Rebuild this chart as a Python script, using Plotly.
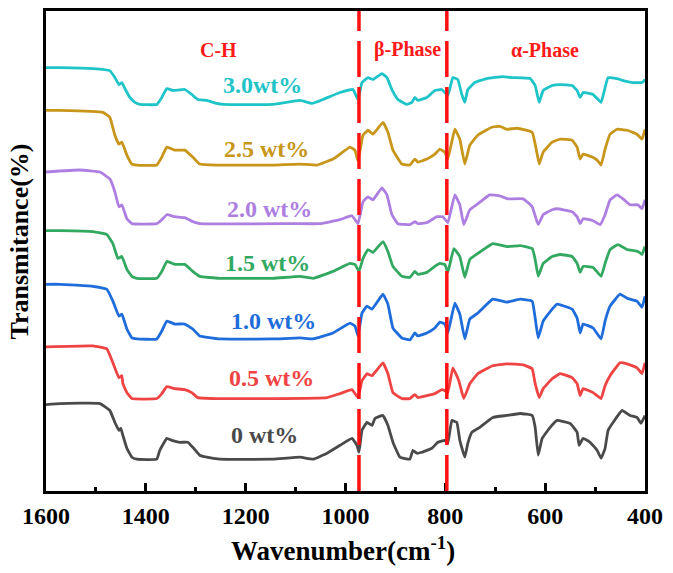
import plotly.graph_objects as go

# ---------------- data (wavenumber cm-1, transmittance a.u. with stacking offset) ----------------
wn_0 = [1600,1572,1492,1472,1462,1454,1450,1446,1438,1428,1418,1378,1372,1358,1348,1332,1316,1306,1292,1278,1252,1145,1091,1065,1037,1011,987,977,973,967,957,947,941,925,915,905,891,871,865,857,847,827,815,801,795,787,777,771,761,755,747,731,705,677,650,626,620,614,606,590,576,550,536,532,524,510,496,488,480,474,464,446,430,416,408,400]
t_0 = [87,88,88,81,69,61,63,56,43,34,32,32,41,53,51,49,49,44,36,34,32,32,34,32,38,46,53,46,39,61,69,66,73,76,66,49,34,32,41,38,39,43,49,51,48,71,69,51,34,48,59,64,74,76,78,76,64,36,53,64,71,68,59,46,53,49,41,33,43,61,69,81,76,74,68,76]

wn_05 = [1600,1506,1478,1466,1454,1448,1446,1438,1428,1378,1368,1358,1342,1322,1308,1296,1258,1145,1037,1011,987,975,967,957,947,925,915,905,887,871,861,855,837,821,807,801,795,785,773,763,751,735,705,677,644,626,620,612,604,586,570,546,536,530,524,504,488,480,470,450,436,416,406,400]
t_05 = [145,146,143,129,114,116,108,99,93,93,98,105,103,102,99,94,93,93,94,98,102,94,111,118,116,129,118,99,93,93,97,94,96,98,102,101,99,124,111,93,108,118,126,128,127,123,108,94,103,113,118,114,108,96,103,99,93,106,116,129,128,124,118,129]

wn_10 = [1600,1572,1506,1478,1466,1454,1448,1438,1428,1418,1378,1368,1358,1342,1322,1306,1292,1252,1145,1091,1065,1025,991,981,975,967,957,947,925,915,905,887,871,861,855,837,821,811,801,795,781,771,761,751,735,705,677,650,626,620,614,604,586,576,546,536,530,524,504,488,480,470,450,436,416,406,400]
t_10 = [208,208,206,203,191,176,178,163,154,153,153,161,171,168,168,163,156,153,153,154,153,159,169,166,156,179,186,183,198,188,164,154,152,159,156,159,164,170,168,159,189,178,153,173,179,193,190,193,191,174,154,171,183,188,183,174,159,168,164,153,171,186,198,194,191,185,196]

wn_15 = [1600,1572,1506,1478,1466,1456,1448,1438,1428,1418,1378,1368,1358,1342,1322,1306,1292,1252,1145,1091,1065,1025,991,981,973,965,955,945,925,915,905,887,871,861,855,837,821,811,801,795,783,771,761,751,735,705,677,650,626,620,614,604,586,570,546,536,530,524,504,488,480,470,454,436,414,406,400]
t_15 = [262,262,261,258,249,234,236,223,216,214,214,221,231,228,228,221,216,214,214,216,214,221,229,228,221,234,243,240,251,241,226,216,215,221,218,220,226,229,228,220,244,236,215,233,239,249,246,247,244,233,216,229,236,238,236,229,220,226,225,216,229,243,248,243,241,238,246]

wn_20 = [1600,1532,1492,1472,1462,1454,1448,1438,1428,1378,1368,1358,1342,1322,1306,1292,1105,1051,1011,987,975,965,955,945,927,917,907,895,871,861,855,837,817,805,795,781,771,763,751,735,711,691,675,644,626,614,604,586,576,546,536,530,524,504,490,480,470,456,444,430,414,406,400]
t_20 = [321,323,321,314,301,286,288,274,269,269,273,278,276,275,271,269,269,269,273,277,269,291,296,293,305,298,278,269,268,271,269,270,276,276,270,298,288,268,283,289,298,297,294,294,286,268,278,283,284,281,276,269,274,272,268,278,293,298,294,288,288,284,293]

wn_25 = [1600,1572,1486,1472,1462,1454,1448,1438,1428,1418,1378,1368,1358,1342,1322,1306,1292,1258,1145,1091,1057,1025,991,981,975,965,955,945,925,915,905,887,871,861,855,837,821,811,801,795,781,771,761,751,735,707,691,677,656,626,618,612,604,586,570,546,536,530,524,506,496,488,480,470,456,436,416,406,400]
t_25 = [383,383,381,376,358,349,351,338,329,328,328,336,346,343,343,336,329,328,328,329,328,334,346,343,332,358,363,359,371,361,343,329,328,334,331,334,339,344,341,334,364,354,329,348,358,366,367,364,365,361,344,329,341,351,354,353,346,334,339,336,333,328,344,359,364,363,359,354,364]

wn_30 = [1600,1572,1506,1472,1462,1454,1448,1442,1432,1422,1412,1378,1368,1358,1346,1322,1308,1296,1278,1258,1245,1145,1091,1067,1045,1011,985,975,967,955,945,927,917,907,895,877,867,861,855,837,821,807,795,785,775,767,761,755,741,717,685,665,630,620,612,604,586,570,546,536,530,524,504,488,480,474,456,444,424,406,400]
t_30 = [426,426,425,423,416,409,411,405,396,391,389,389,396,405,403,404,399,394,393,390,389,389,393,390,394,401,404,394,411,416,414,420,416,404,394,389,391,396,393,396,403,404,398,416,414,399,391,404,411,415,417,416,415,408,391,403,408,409,408,403,396,401,399,391,406,416,415,413,411,411,414]

series_names = ["0 wt%", "0.5 wt%", "1.0 wt%", "1.5 wt%", "2.0 wt%", "2.5 wt%", "3.0wt%"]
series_wn = [wn_0, wn_05, wn_10, wn_15, wn_20, wn_25, wn_30]
series_t = [t_0, t_05, t_10, t_15, t_20, t_25, t_30]
series_colors = ["#4a4a4a", "#ef4444", "#1f6ddb", "#33a861", "#ad7fe0", "#c8961a", "#1fc4c8"]
label_wn = [1163, 1149, 1145, 1157, 1153, 1159, 1167]
label_t = [56, 114, 171, 229, 284, 344, 409]

region_names = ["C-H", "β-Phase", "α-Phase"]
region_wn = [1255, 875, 600]
region_t = 444
divider_wn = [973, 797]

x_ticks = [1600, 1400, 1200, 1000, 800, 600, 400]

FONT = "Liberation Serif, Times New Roman, serif"

fig = go.Figure()
for name, wn, t, c in zip(series_names, series_wn, series_t, series_colors):
    fig.add_trace(go.Scatter(x=wn, y=t, mode="lines", name=name,
                             line=dict(color=c, width=2.8, shape="spline", smoothing=0.3),
                             showlegend=False, hoverinfo="skip"))

for name, x, y, c in zip(series_names, label_wn, label_t, series_colors):
    fig.add_annotation(x=x, y=y, text=name, showarrow=False,
                       font=dict(family=FONT, size=24, color=c, weight="bold"))

for name, x in zip(region_names, region_wn):
    fig.add_annotation(x=x, y=region_t, text=name, showarrow=False,
                       font=dict(family=FONT, size=20, color="#ff1a1a", weight="bold"))

for x in divider_wn:
    fig.add_shape(type="line", x0=x, x1=x, y0=0, y1=1, xref="x", yref="paper",
                  line=dict(color="#ff1010", width=3.5, dash="36px,10px"))

fig.add_annotation(xref="paper", yref="paper", x=0.495, y=-0.12, yanchor="middle",
                   text="Wavenumber(cm<sup>-1</sup>)", showarrow=False,
                   font=dict(family=FONT, size=27, color="black", weight="bold"))
fig.add_annotation(xref="paper", yref="paper", x=-0.045, xanchor="center", y=0.52,
                   text="Transmitance(%)", textangle=-90, showarrow=False,
                   font=dict(family=FONT, size=26, color="black", weight="bold"))

fig.update_layout(
    width=673, height=573,
    margin=dict(l=46, r=28, t=8, b=82),
    paper_bgcolor="white", plot_bgcolor="white",
    xaxis=dict(range=[1600, 400], tickvals=x_ticks, ticks="inside", ticklen=8, tickwidth=2.5,
               tickcolor="black", showline=True, linewidth=3, linecolor="black", mirror=True,
               showgrid=False, zeroline=False, ticklabelstandoff=1,
               tickfont=dict(family=FONT, size=24, color="black", weight="bold"),
               minor=dict(tickvals=[1500, 1300, 1100, 900, 700, 500], ticks="inside",
                          ticklen=4, tickwidth=2.5, tickcolor="black", showgrid=False)),
    yaxis=dict(range=[0, 483], showticklabels=False, ticks="", showline=True, linewidth=3,
               linecolor="black", mirror=True, showgrid=False, zeroline=False),
)

fig.write_html("out.html")
